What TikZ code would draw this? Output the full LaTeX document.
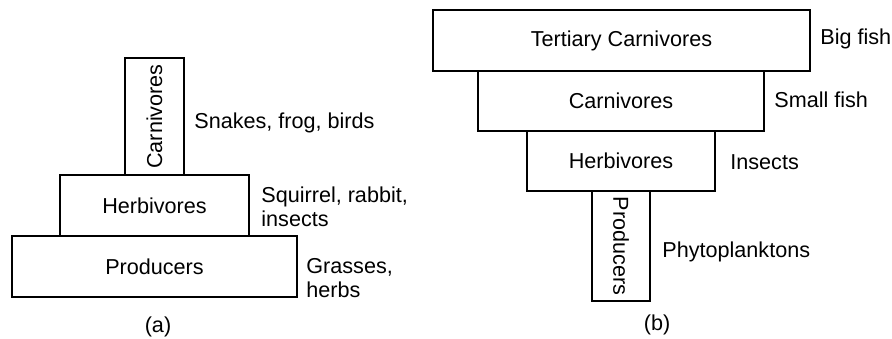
\documentclass[tikz,border=0pt]{standalone}
\usepackage{fontspec}
\setmainfont{Liberation Sans}
\tikzset{
    stufe/.style={draw, line width=0.6pt, inner sep=0pt, font=\fontsize{10.8}{12}\selectfont},
    beschr/.style={anchor=west, inner sep=0pt, align=left, font=\fontsize{10.8}{12}\selectfont}
}
\begin{document}
\begin{tikzpicture}[x=0.5pt, y=-0.5pt]
        \useasboundingbox (0,0) rectangle (892,338);

        % zeichne Pyramide (a)
        \node[stufe, minimum width=142.5pt, minimum height=30.5pt] (prodA) at (154.5,266.5) {Producers};
        \node[stufe, minimum width=94.5pt, minimum height=30.5pt] (herbA) at (154.5,205.5) {Herbivores};
        \node[stufe, rotate=90, minimum width=58.5pt, minimum height=29.5pt] (carnA) at (154.5,116.5) {Carnivores};

        % zeichne Labels (a)
        \node[beschr] (snakes) at (194,123) {Snakes, frog, birds};
        \node[beschr] (squirrel) at (261,206.5) {Squirrel, rabbit,\\insects};
        \node[beschr] (grasses) at (306,278) {Grasses,\\herbs};
        \node[stufe, draw=none] (capA) at (158,327) {(a)};

        % zeichne Pyramide (b)
        \node[stufe, minimum width=188.5pt, minimum height=30.5pt] (tertB) at (621.5,40.5) {Tertiary Carnivores};
        \node[stufe, minimum width=143pt, minimum height=30pt] (carnB) at (621,101) {Carnivores};
        \node[stufe, minimum width=94pt, minimum height=30pt] (herbB) at (621,161) {Herbivores};
        \node[stufe, rotate=-90, minimum width=55pt, minimum height=29pt] (prodB) at (621,246) {Producers};

        % zeichne Labels (b)
        \node[beschr] (bigfish) at (820,39) {Big fish};
        \node[beschr] (smallfish) at (774,100) {Small fish};
        \node[beschr] (insects) at (730,162) {Insects};
        \node[beschr] (phyto) at (662,252) {Phytoplanktons};
        \node[stufe, draw=none] (capB) at (657,325) {(b)};
    \end{tikzpicture}
\end{document}
